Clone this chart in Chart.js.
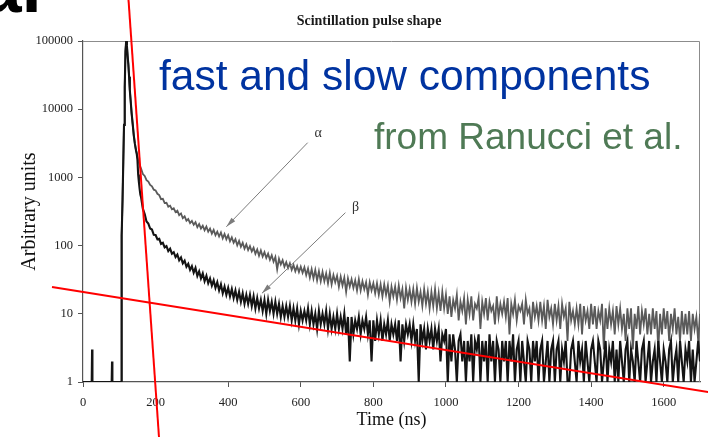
<!DOCTYPE html>
<html>
<head>
<meta charset="utf-8">
<title>Scintillation pulse shape</title>
<script src="https://cdn.jsdelivr.net/npm/chart.js@4.4.1/dist/chart.umd.min.js"></script>
<style>
  html, body { margin: 0; padding: 0; background: #fff; }
  canvas { display: block; }
</style>
</head>
<body>
<canvas id="pulse" width="708" height="437"></canvas>
<script>
// sample times in ns, shared by both pulse shapes
const timeNs = [
  0, 24, 25, 26, 79, 80, 81, 105, 106, 107,
  109, 111, 113, 115, 117, 119, 121, 123, 125, 127,
  129, 131, 134, 137, 140, 143, 146, 148, 150, 152,
  154, 156, 158,
  160, 165, 170, 175, 180, 185, 190, 195, 200, 205,
  210, 215, 220, 225, 230, 235, 240, 245, 250, 255,
  260, 265, 270, 275, 280, 285, 290, 295, 300, 305,
  310, 315, 320, 325, 330, 335, 340, 345, 350, 355,
  360, 365, 370, 375, 380, 385, 390, 395, 400, 405,
  410, 415, 420, 425, 430, 435, 440, 445, 450, 455,
  460, 465, 470, 475, 480, 485, 490, 495, 500, 505,
  510, 515, 520, 525, 530, 535, 540, 545, 550, 555,
  560, 565, 570, 575, 580, 585, 590, 595, 600, 605,
  610, 615, 620, 625, 630, 635, 640, 645, 650, 655,
  660, 665, 670, 675, 680, 685, 690, 695, 700, 705,
  710, 715, 720, 725, 730, 735, 740, 745, 750, 755,
  760, 765, 770, 775, 780, 785, 790, 795, 800, 805,
  810, 815, 820, 825, 830, 835, 840, 845, 850, 855,
  860, 865, 870, 875, 880, 885, 890, 895, 900, 905,
  910, 915, 920, 925, 930, 935, 940, 945, 950, 955,
  960, 965, 970, 975, 980, 985, 990, 995, 1000, 1005,
  1010, 1015, 1020, 1025, 1030, 1035, 1040, 1045, 1050, 1055,
  1060, 1065, 1070, 1075, 1080, 1085, 1090, 1095, 1100, 1105,
  1110, 1115, 1120, 1125, 1130, 1135, 1140, 1145, 1150, 1155,
  1160, 1165, 1170, 1175, 1180, 1185, 1190, 1195, 1200, 1205,
  1210, 1215, 1220, 1225, 1230, 1235, 1240, 1245, 1250, 1255,
  1260, 1265, 1270, 1275, 1280, 1285, 1290, 1295, 1300, 1305,
  1310, 1315, 1320, 1325, 1330, 1335, 1340, 1345, 1350, 1355,
  1360, 1365, 1370, 1375, 1380, 1385, 1390, 1395, 1400, 1405,
  1410, 1415, 1420, 1425, 1430, 1435, 1440, 1445, 1450, 1455,
  1460, 1465, 1470, 1475, 1480, 1485, 1490, 1495, 1500, 1505,
  1510, 1515, 1520, 1525, 1530, 1535, 1540, 1545, 1550, 1555,
  1560, 1565, 1570, 1575, 1580, 1585, 1590, 1595, 1600, 1605,
  1610, 1615, 1620, 1625, 1630, 1635, 1640, 1645, 1650, 1655,
  1660, 1665, 1670, 1675, 1680, 1685, 1690, 1695, 1700
];

// alpha-particle pulse (grey trace)
const alphaCounts = [
  1, 1, 1, 1, 1, 1, 1, 1, 1, 140,
  480, 1700, 5900, 21000, 70000, 100000, 85000, 60000, 45000, 30000,
  19000, 14000, 8700, 6000, 4100, 3100, 2500, 2240, 2000, 1800,
  1650, 1520, 1420,
  1350, 1120, 1050, 910, 870, 775, 740, 660, 645, 575,
  550, 480, 485, 420, 425, 372, 385, 340, 352, 310,
  325, 280, 296, 252, 268, 232, 245, 214, 230, 202,
  220, 186, 207, 178, 196, 168, 190, 160, 178, 150,
  170, 142, 160, 136, 156, 128, 148, 124, 142, 116,
  132, 110, 124, 101, 117, 96, 110, 90, 104, 86,
  98, 82, 93, 76, 88, 71, 85, 69, 80, 66,
  76, 62, 72, 58, 68, 45, 64, 53, 61, 49,
  57, 47, 55, 44, 52, 42, 50, 41, 49, 40,
  48, 37, 46, 34, 45, 33, 44, 31, 42, 30,
  41, 30, 39, 28, 40, 27, 37, 29, 36, 25,
  35, 26, 34, 21, 33, 25, 32, 24, 31, 22,
  32, 22, 30, 23, 29, 19, 29, 22, 28, 20,
  28, 19, 27, 18, 27, 19, 26, 15, 25, 18,
  25, 16, 26, 17, 23, 12, 24, 16, 23, 15,
  23, 14, 24, 15, 21, 13, 23, 14, 21, 12,
  21, 13, 23, 12, 20, 11, 21, 12, 19, 10,
  18, 9, 16, 12, 19, 8, 15, 11, 17, 7,
  16, 10, 18, 8, 14, 12, 17, 6, 15, 10,
  17, 8, 15, 11, 13, 7, 18, 9, 14, 10,
  15, 9, 17, 5, 14, 10, 16, 8, 13, 11,
  14, 7, 16, 10, 12, 6, 15, 9, 13, 8,
  15, 8, 13, 6, 16, 9, 12, 7, 14, 8,
  13, 6, 14, 9, 12, 4, 15, 8, 11, 7,
  12, 7, 14, 5, 13, 8, 11, 6, 14, 7,
  13, 6, 11, 8, 14, 3, 12, 6, 12, 7,
  11, 5, 13, 7, 12, 6, 10, 4, 12, 6,
  12, 3, 10, 6, 13, 5, 11, 7, 12, 5,
  10, 5, 12, 6, 11, 3, 10, 5, 12, 6,
  11, 4, 10, 6, 12, 5, 9, 4, 11, 5,
  10, 5, 11, 4, 10, 6, 9, 4, 10
];

// electron-like (beta) pulse (black trace)
const betaCounts = [
  1, 1, 3, 1, 1, 2, 1, 1, 1, 140,
  480, 1700, 5900, 21000, 70000, 100000, 85000, 60000, 45000, 30000,
  19000, 14000, 8700, 6000, 4100, 3100, 2500, 2240, 1800, 1100,
  850, 680, 560,
  510, 345, 290, 226, 210, 178, 172, 144, 143, 124,
  126, 106, 110, 94, 98, 83, 90, 76, 80, 68,
  74, 61, 67, 55, 60, 49, 54, 44, 50, 40,
  47, 36, 42, 33, 39, 30, 36, 28, 33, 26,
  31, 24, 29, 22, 27, 20, 25, 19, 24, 18,
  23, 17, 22, 16, 21, 15, 20, 14, 19, 14,
  19, 13, 18, 12, 17, 12, 16, 11, 16, 10,
  16, 11, 15, 10, 15, 10, 14, 9, 13, 9,
  13, 9, 13, 8, 12, 8, 12, 7, 11, 8,
  11, 8, 12, 7, 11, 7, 10, 6, 11, 7,
  10, 7, 11, 6, 10, 6, 9, 6, 10, 6,
  9, 6, 10, 5, 9, 2, 9, 5, 8, 6,
  9, 5, 8, 6, 9, 5, 8, 2, 8, 4,
  8, 5, 8, 4, 7, 5, 8, 4, 7, 5,
  7, 4, 8, 2, 7, 4, 7, 5, 7, 4,
  7, 4, 6, 1, 7, 4, 6, 3, 6, 4,
  6, 3, 6, 4, 6, 2, 5, 4, 6, 1,
  5, 2, 5, 3, 1, 4, 5, 2, 4, 1,
  4, 2, 5, 1, 4, 3, 5, 1, 4, 2,
  4, 1, 5, 2, 4, 1, 4, 3, 1, 4,
  2, 4, 1, 4, 2, 5, 1, 3, 4, 1,
  4, 2, 1, 4, 3, 1, 4, 2, 4, 1,
  3, 4, 1, 2, 4, 1, 3, 4, 1, 3,
  4, 1, 3, 2, 4, 1, 1, 3, 4, 2,
  1, 4, 2, 3, 1, 4, 2, 1, 3, 4,
  2, 1, 4, 3, 1, 2, 4, 1, 3, 2,
  4, 1, 3, 1, 4, 2, 1, 3, 4, 1,
  3, 2, 1, 4, 2, 1, 3, 4, 1, 2,
  4, 1, 2, 3, 1, 4, 2, 1, 3, 2,
  1, 3, 4, 1, 2, 3, 1, 4, 2, 1,
  3, 2, 4, 1, 3, 1, 2, 4, 2
];

const xTicks = [0, 200, 400, 600, 800, 1000, 1200, 1400, 1600];
const yTicks = [1, 10, 100, 1000, 10000, 100000];

// hand-drawn exponential guides (straight on the log axis)
const fastFitTime = [120.2, 211.9];
const fastFitValue = [1000000, 0.1];
const slowFitTime = [-85.4, 1760];
const slowFitValue = [24.7, 0.662];

// labelled arrows, in axis units: [ns, counts]
const arrowNotes = [
  { label: 'α', tail: [619, 3230], head: [395, 189], text: [648, 4480] },
  { label: 'β', tail: [723, 304], head: [493, 20], text: [751, 368] }
];

const toPoints = (xs, ys) => xs.map((t, i) => ({ x: t, y: ys[i] }));

function drawArrow(ctx, x0, y0, x1, y1) {
  const ang = Math.atan2(y1 - y0, x1 - x0);
  const len = 10, half = 2.6;
  ctx.beginPath();
  ctx.moveTo(x0, y0);
  ctx.lineTo(x1, y1);
  ctx.stroke();
  ctx.beginPath();
  ctx.moveTo(x1, y1);
  ctx.lineTo(x1 - len * Math.cos(ang) + half * Math.sin(ang), y1 - len * Math.sin(ang) - half * Math.cos(ang));
  ctx.lineTo(x1 - len * Math.cos(ang) - half * Math.sin(ang), y1 - len * Math.sin(ang) + half * Math.cos(ang));
  ctx.closePath();
  ctx.fill();
}

const decorations = {
  id: 'decorations',
  beforeDraw(chart) {
    const { ctx, width, height } = chart;
    ctx.save();
    ctx.fillStyle = '#fff';
    ctx.fillRect(0, 0, width, height);
    ctx.restore();
  },
  beforeDatasetsDraw(chart) {
    // top and right edges of the plot box
    const { ctx, chartArea: a } = chart;
    ctx.save();
    ctx.strokeStyle = '#8c8c8c';
    ctx.lineWidth = 1;
    ctx.beginPath();
    ctx.moveTo(a.left, a.top + 0.5);
    ctx.lineTo(a.right - 0.5, a.top + 0.5);
    ctx.lineTo(a.right - 0.5, a.bottom);
    ctx.stroke();
    ctx.restore();
  },
  afterDraw(chart) {
    const { ctx, scales: { x, y } } = chart;
    ctx.save();

    // arrows pointing at the two traces
    ctx.strokeStyle = '#7c7c7c';
    ctx.fillStyle = '#7c7c7c';
    ctx.lineWidth = 1;
    arrowNotes.forEach(n => {
      drawArrow(ctx,
        x.getPixelForValue(n.tail[0]), y.getPixelForValue(n.tail[1]),
        x.getPixelForValue(n.head[0]), y.getPixelForValue(n.head[1]));
    });
    ctx.fillStyle = '#333';
    ctx.font = '14px "Liberation Serif"';
    ctx.textAlign = 'center';
    ctx.textBaseline = 'middle';
    arrowNotes.forEach(n => {
      ctx.fillText(n.label, x.getPixelForValue(n.text[0]), y.getPixelForValue(n.text[1]));
    });

    // plot title
    ctx.fillStyle = '#1a1a1a';
    ctx.font = 'bold 14px "Liberation Serif"';
    ctx.textBaseline = 'alphabetic';
    ctx.fillText('Scintillation pulse shape', 369, 25);

    // slide text around the figure
    ctx.textAlign = 'left';
    ctx.fillStyle = '#000';
    ctx.font = 'bold 73px "Liberation Sans"';
    ctx.fillText('al', -19, 12);

    ctx.fillStyle = '#0033a0';
    ctx.font = '42.5px "Liberation Sans"';
    ctx.fillText('fast and slow components', 159, 90);

    ctx.fillStyle = '#4f7a55';
    ctx.font = '37px "Liberation Sans"';
    ctx.fillText('from Ranucci et al.', 374, 149);

    ctx.restore();
  }
};

new Chart(document.getElementById('pulse'), {
  type: 'line',
  data: {
    datasets: [
      {
        label: 'fast fit',
        data: toPoints(fastFitTime, fastFitValue),
        borderColor: '#ff0000',
        borderWidth: 2,
        pointRadius: 0,
        clip: false
      },
      {
        label: 'slow fit',
        data: toPoints(slowFitTime, slowFitValue),
        borderColor: '#ff0000',
        borderWidth: 2,
        pointRadius: 0,
        clip: false
      },
      {
        label: 'β',
        data: toPoints(timeNs, betaCounts),
        borderColor: '#141414',
        borderWidth: 2.1,
        pointRadius: 0
      },
      {
        label: 'α',
        data: toPoints(timeNs, alphaCounts),
        borderColor: '#5a5a5a',
        borderWidth: 1.8,
        pointRadius: 0
      }
    ]
  },
  options: {
    responsive: false,
    animation: false,
    devicePixelRatio: 1,
    events: [],
    layout: { padding: { top: 41, right: 8, left: 0, bottom: 0 } },
    elements: { line: { tension: 0 } },
    plugins: {
      legend: { display: false },
      tooltip: { enabled: false },
      title: { display: false }
    },
    scales: {
      x: {
        type: 'linear',
        min: 0,
        max: 1700,
        afterFit: (scale) => { scale.height = 55; },
        afterBuildTicks: (scale) => { scale.ticks = xTicks.map(v => ({ value: v })); },
        grid: { drawOnChartArea: false, drawTicks: true, tickLength: 5, color: '#555' },
        border: { display: true, color: '#555', width: 1.2 },
        ticks: {
          padding: 8,
          maxRotation: 0,
          color: '#222',
          font: { family: 'Liberation Serif', size: 12.5 },
          callback: (v) => String(v)
        },
        title: {
          display: true,
          text: 'Time (ns)',
          color: '#111',
          font: { family: 'Liberation Serif', size: 18 },
          padding: { top: 0, bottom: 6 }
        }
      },
      y: {
        type: 'logarithmic',
        min: 1,
        max: 100000,
        afterFit: (scale) => { scale.width = 83; },
        afterBuildTicks: (scale) => { scale.ticks = yTicks.map(v => ({ value: v })); },
        grid: { drawOnChartArea: false, drawTicks: true, tickLength: 5, color: '#555' },
        border: { display: true, color: '#555', width: 1.2 },
        ticks: {
          padding: 5,
          color: '#222',
          font: { family: 'Liberation Serif', size: 12.5 },
          callback: (v) => String(v)
        },
        title: {
          display: true,
          text: 'Arbitrary units',
          color: '#111',
          font: { family: 'Liberation Serif', size: 20 },
          padding: { top: 18, bottom: 0 }
        }
      }
    }
  },
  plugins: [decorations]
});
</script>
</body>
</html>
